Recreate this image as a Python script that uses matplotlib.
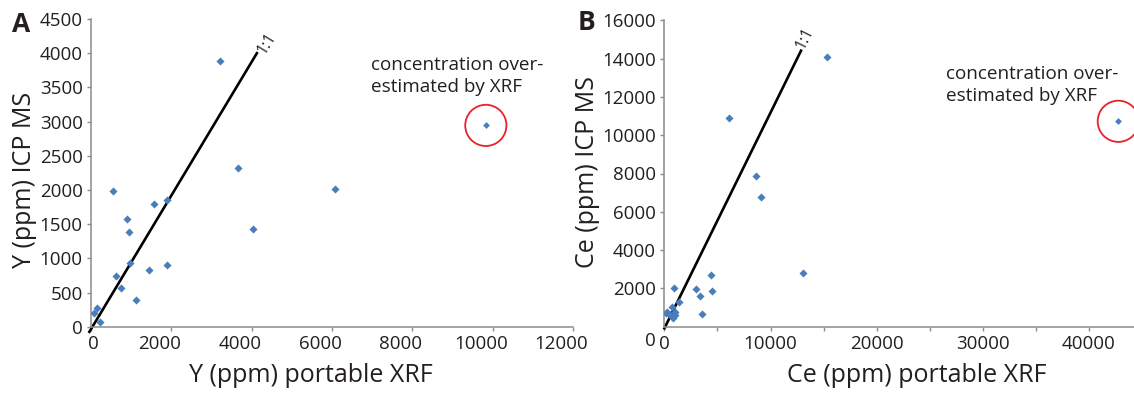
import matplotlib
matplotlib.use("Agg")
import matplotlib.pyplot as plt
from matplotlib.ticker import MultipleLocator, FixedLocator
from matplotlib.transforms import ScaledTranslation

plt.rcParams['font.family'] = ['Open Sans', 'DejaVu Sans']

# Y: portable XRF vs ICP MS (ppm)
y_xrf = [540, 1577, 1885, 897, 939, 979, 623, 740, 1121, 1437, 1893,
         75, 149, 217, 3653, 4027, 3200, 6085]
y_icp = [1990, 1794, 1852, 1579, 1380, 931, 741, 561, 395, 829, 906,
         196, 273, 73, 2316, 1424, 3880, 2013]
y_outlier = (9830, 2944)
y_line_x = [-40, 4130]
y_line_y = [-75, 4000]
y_xticks = [0, 2000, 4000, 6000, 8000, 10000, 12000]

# Ce: portable XRF vs ICP MS (ppm)
ce_xrf = [15297, 6117, 8633, 9105, 13092, 4364, 3007, 4458, 3327, 877,
          1376, 3544, 688, 151, 971, 528, 839, 245, 1027]
ce_icp = [14099, 10898, 7869, 6757, 2804, 2700, 1953, 1849, 1619, 2005,
          1305, 647, 1044, 731, 783, 611, 480, 752, 600]
ce_outlier = (42780, 10726)
ce_line_x = [0, 12875]
ce_line_y = [-84, 14412]

note = "concentration over-\nestimated by XRF"
txt = '#231f20'
blue = '#4a7ebb'
spine = '#8c8c8c'

fig = plt.figure(figsize=(11.34, 3.94), dpi=100)
axA = fig.add_axes([91 / 1134, 67.3 / 394, 482 / 1134, 307.7 / 394])
axB = fig.add_axes([664.4 / 1134, 67.3 / 394, 469.6 / 1134, 306.4 / 394])


def style(ax):
    for s in ['top', 'right']:
        ax.spines[s].set_visible(False)
    for s in ['left', 'bottom']:
        ax.spines[s].set_color(spine)
        ax.spines[s].set_linewidth(1.1)
    ax.tick_params(which='both', direction='out', length=3, width=1,
                   color=spine, labelsize=13.5, labelcolor=txt, pad=3)


# panel A
style(axA)
axA.scatter(y_xrf, y_icp, marker='D', s=17, color=blue, zorder=3, linewidths=0)
axA.scatter(*y_outlier, marker='D', s=12, color=blue, zorder=3, linewidths=0)
axA.scatter(*y_outlier, marker='o', s=880, facecolors='none',
            edgecolors='#e8212b', linewidths=1.3, zorder=3)
axA.plot(y_line_x, y_line_y, color='black', lw=1.9, clip_on=False, zorder=2)
axA.text(4376, 4148, "1:1", rotation=58.7, ha='center', va='center',
         fontsize=11.5, color=txt)
axA.text(6974, 3672, note, ha='left', va='center', fontsize=13.6,
         color=txt, linespacing=1.3)
axA.set_xlim(0, 12000)
axA.set_ylim(0, 4500)
axA.xaxis.set_major_locator(FixedLocator(y_xticks))
axA.yaxis.set_major_locator(MultipleLocator(500))
axA.set_xlabel("Y (ppm) portable XRF", fontsize=18, color=txt)
axA.set_ylabel("Y (ppm) ICP MS", fontsize=18, color=txt)
axA.xaxis.set_label_coords(0.456, -0.16)
axA.yaxis.set_label_coords(-0.137, 0.478)
axA.xaxis.label.set_va('center')
axA.yaxis.label.set_va('center')
fig.text(21 / 1134, 1 - 24 / 394, "A", fontsize=19, fontweight='bold',
         ha='center', va='center', color=txt)

# x labels of panel A sit a bit left of their ticks (0 a bit right)
for i, tick in enumerate(axA.xaxis.get_major_ticks(len(y_xticks))):
    dx = 1.5 if i == 0 else -8.5
    tick.label1.set_transform(tick.label1.get_transform() +
                              ScaledTranslation(dx / 72, 0, fig.dpi_scale_trans))

# panel B
style(axB)
axB.scatter(ce_xrf, ce_icp, marker='D', s=17, color=blue, zorder=3, linewidths=0)
axB.scatter(*ce_outlier, marker='D', s=12, color=blue, zorder=3, linewidths=0)
axB.scatter(*ce_outlier, marker='o', s=880, facecolors='none',
            edgecolors='#e8212b', linewidths=1.3, zorder=3, clip_on=False)
axB.plot(ce_line_x, ce_line_y, color='black', lw=1.9, clip_on=False, zorder=2)
axB.text(13252, 15076, "1:1", rotation=63.7, ha='center', va='center',
         fontsize=11.5, color=txt)
axB.text(26513, 12611, note, ha='left', va='center', fontsize=13.6,
         color=txt, linespacing=1.3)
axB.set_xlim(0, 44260)
axB.set_ylim(0, 16000)
axB.xaxis.set_major_locator(MultipleLocator(10000))
axB.xaxis.set_minor_locator(MultipleLocator(5000))
axB.yaxis.set_major_locator(FixedLocator(range(2000, 16001, 2000)))
axB.set_xlabel("Ce (ppm) portable XRF", fontsize=18, color=txt)
axB.set_ylabel("Ce (ppm) ICP MS", fontsize=18, color=txt)
axB.xaxis.set_label_coords(0.538, -0.16)
axB.yaxis.set_label_coords(-0.163, 0.504)
axB.xaxis.label.set_va('center')
axB.yaxis.label.set_va('center')
# the y zero label sits a little below the axis here
axB.annotate("0", xy=(0, 0), xycoords='data', xytext=(-10, -10),
             textcoords='offset points', ha='center', va='center',
             fontsize=13.5, color=txt, annotation_clip=False)
fig.text(586 / 1134, 1 - 23 / 394, "B", fontsize=19, fontweight='bold',
         ha='center', va='center', color=txt)

fig.savefig("out.png", dpi=100)
